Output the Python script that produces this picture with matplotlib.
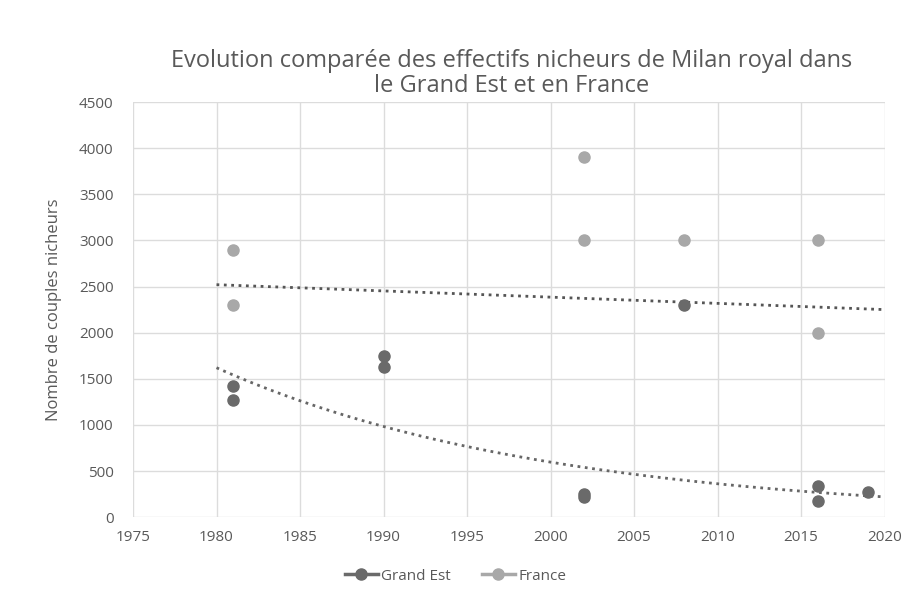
import numpy as np
import matplotlib.pyplot as plt

plt.rcParams['font.family'] = ['Open Sans', 'DejaVu Sans']

# effectifs nicheurs (couples)
ge_years = [1981, 1981, 1990, 1990, 2002, 2002, 2008, 2016, 2016, 2019]
ge_values = [1420, 1270, 1750, 1630, 250, 220, 2300, 340, 180, 270]
fr_years = [1981, 1981, 2002, 2002, 2008, 2016, 2016]
fr_values = [2900, 2300, 3900, 3000, 3000, 3000, 2000]

# courbes de tendance (valeurs lues aux extrémités)
trend_years = [1980, 2020]
fr_trend = [2520, 2250]      # linéaire
ge_trend = [1620, 220]       # exponentielle

grey_txt = '#595959'

fig = plt.figure(figsize=(9.11, 6.0), dpi=100)
ax = fig.add_axes([0.146, 0.138, 0.825, 0.692])

# tendances
tx = np.linspace(trend_years[0], trend_years[1], 100)
ax.plot(tx, np.linspace(fr_trend[0], fr_trend[1], 100), ':', color='#555555', lw=2, zorder=2)
ax.plot(tx, np.geomspace(ge_trend[0], ge_trend[1], 100), ':', color='#666666', lw=2, zorder=2)

ax.plot(ge_years, ge_values, 'o', color='#6a6a6a', ms=8, label='Grand Est', zorder=3)
ax.plot(fr_years, fr_values, 'o', color='#a8a8a8', ms=8, label='France', zorder=3)

ax.set_xlim(1975, 2020)
ax.set_ylim(0, 4500)
ax.set_xticks(np.arange(1975, 2021, 5))
ax.set_yticks(np.arange(0, 4501, 500))
ax.grid(True, color='#dcdcdc', lw=1)
ax.set_axisbelow(True)
for s in ax.spines.values():
    s.set_visible(False)
ax.tick_params(length=0, labelsize=11, colors=grey_txt)
ax.tick_params(axis='y', pad=14)
ax.tick_params(axis='x', pad=9)
ax.set_ylabel('Nombre de couples nicheurs', fontsize=12, color=grey_txt, labelpad=12)

fig.text(0.562, 0.918, 'Evolution comparée des effectifs nicheurs de Milan royal dans\nle Grand Est et en France',
         ha='center', va='top', fontsize=17, color=grey_txt, linespacing=1.05)

# légende (ligne + marqueur comme Excel)
h1, = ax.plot([], [], '-o', color='#6a6a6a', ms=8, lw=2.5)
h2, = ax.plot([], [], '-o', color='#a8a8a8', ms=8, lw=2.5)
fig.legend([h1, h2], ['Grand Est', 'France'], loc='center', bbox_to_anchor=(0.5, 0.04),
           ncol=2, frameon=False, fontsize=11, labelcolor=grey_txt,
           handlelength=2.2, handletextpad=0.2, columnspacing=2)

fig.savefig('out.png', dpi=100)
